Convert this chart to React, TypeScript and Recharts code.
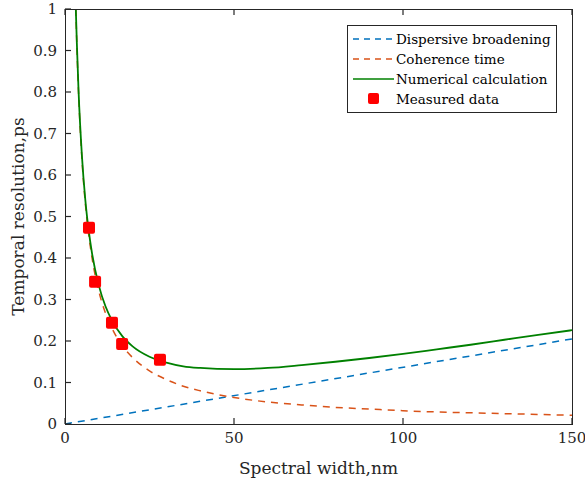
import { XAxis, YAxis, Line, Scatter, ComposedChart } from "recharts";

// values
const dispersiveX = [0, 150];
const dispersiveY = [0, 0.205];

const coherenceX = [3.2, 3.5, 4, 5, 6, 7, 8, 10, 12, 14, 17, 20, 25, 30, 35, 40, 50, 60, 70, 80, 90, 100, 110, 120, 130, 140, 150];
const coherenceY = [1.0, 0.914, 0.8, 0.64, 0.533, 0.457, 0.4, 0.32, 0.267, 0.229, 0.188, 0.16, 0.128, 0.107, 0.091, 0.08, 0.064, 0.053, 0.046, 0.04, 0.036, 0.032, 0.029, 0.027, 0.025, 0.023, 0.021];

const numericalX = [3.2, 3.5, 4, 5, 6, 7, 8, 10, 12, 14, 17, 20, 25, 30, 35, 40, 50, 60, 70, 80, 90, 100, 110, 120, 130, 140, 150];
const numericalY = [1.0, 0.919, 0.805, 0.647, 0.541, 0.467, 0.411, 0.334, 0.283, 0.248, 0.211, 0.187, 0.162, 0.148, 0.139, 0.135, 0.132, 0.135, 0.142, 0.15, 0.159, 0.169, 0.18, 0.191, 0.203, 0.215, 0.226];

const measuredX = [7.1, 8.9, 13.9, 16.9, 28.1];
const measuredY = [0.473, 0.343, 0.244, 0.193, 0.155];

const xTicks = [0, 50, 100, 150];
const yTicks = [0, 0.1, 0.2, 0.3, 0.4, 0.5, 0.6, 0.7, 0.8, 0.9, 1];

const zip = (xs: number[], ys: number[]) => xs.map((x, i) => ({ x, y: ys[i] }));

const dispersive = zip(dispersiveX, dispersiveY);
const coherence = zip(coherenceX, coherenceY);
const numerical = zip(numericalX, numericalY);
const measured = zip(measuredX, measuredY);

const FONT = "'DejaVu Serif', serif";
const AXIS = "#262626";
const TICK_LEN = 6;

const SquareDot = (props: any) => {
  const { cx, cy } = props;
  if (cx == null || cy == null) return null;
  return <rect x={cx - 6} y={cy - 6} width={12} height={12} rx={2} fill="#FF0000" />;
};

// inward tick marks drawn as filled rects, together with the labels
const BottomTick = ({ x, y, payload }: any) => (
  <g>
    <rect x={x - 0.6} y={y - TICK_LEN} width={1.2} height={TICK_LEN} fill={AXIS} />
    <text x={x} y={y + 8} dy="0.71em" textAnchor="middle" fill={AXIS} fontSize={15} fontFamily={FONT}>
      {payload.value}
    </text>
  </g>
);

const TopTick = ({ x, y }: any) => (
  <rect x={x - 0.6} y={y} width={1.2} height={TICK_LEN} fill={AXIS} />
);

const LeftTick = ({ x, y, payload }: any) => (
  <g>
    <rect x={x + 8} y={y - 0.6} width={TICK_LEN} height={1.2} fill={AXIS} />
    <text x={x} y={y} dy="0.355em" textAnchor="end" fill={AXIS} fontSize={15} fontFamily={FONT}>
      {payload.value}
    </text>
  </g>
);

const RightTick = ({ x, y }: any) => (
  <rect x={x - TICK_LEN} y={y - 0.6} width={TICK_LEN} height={1.2} fill={AXIS} />
);

const LegendBox = () => {
  const rows = [
    { label: "Dispersive broadening", kind: "dash", color: "#0072BD" },
    { label: "Coherence time", kind: "dash", color: "#D95319" },
    { label: "Numerical calculation", kind: "solid", color: "#008000" },
    { label: "Measured data", kind: "dot", color: "#FF0000" },
  ];
  return (
    <div
      style={{
        position: "absolute",
        left: 347,
        top: 25,
        width: 210,
        height: 88,
        border: "1px solid #262626",
        background: "#fff",
        fontFamily: FONT,
        fontSize: 13.5,
        color: "#000",
        boxSizing: "border-box",
        paddingTop: 3,
      }}
    >
      {rows.map((r) => (
        <div key={r.label} style={{ display: "flex", alignItems: "center", height: 20 }}>
          <svg width={48} height={20} style={{ flex: "none" }}>
            {r.kind === "dash" && (
              <line x1={5} x2={46} y1={10} y2={10} stroke={r.color} strokeWidth={1.5} strokeDasharray="6 5" />
            )}
            {r.kind === "solid" && <line x1={5} x2={46} y1={10} y2={10} stroke={r.color} strokeWidth={1.5} />}
            {r.kind === "dot" && <rect x={20} y={4} width={11} height={11} rx={2} fill={r.color} />}
          </svg>
          <span style={{ whiteSpace: "nowrap" }}>{r.label}</span>
        </div>
      ))}
    </div>
  );
};

export default function App() {
  return (
    <div style={{ position: "fixed", left: 0, top: 0, width: 585, height: 482, background: "#fff", fontFamily: FONT }}>
      <ComposedChart width={585} height={482} data={numerical} margin={{ top: 8, right: 12, bottom: 0, left: 0 }}>
        <XAxis
          xAxisId="b"
          type="number"
          dataKey="x"
          domain={[0, 150]}
          ticks={xTicks}
          allowDataOverflow
          height={58}
          axisLine={false}
          tickLine={false}
          tick={<BottomTick />}
          tickSize={0}
          tickMargin={0}
          label={{ value: "Spectral width,nm", position: "insideBottom", offset: 8, style: { fill: AXIS, fontSize: 17, fontFamily: FONT } }}
        />
        <XAxis
          xAxisId="t"
          orientation="top"
          type="number"
          dataKey="x"
          domain={[0, 150]}
          ticks={xTicks}
          height={1}
          axisLine={false}
          tickLine={false}
          tick={<TopTick />}
          tickSize={0}
          tickMargin={0}
        />
        <YAxis
          yAxisId="l"
          type="number"
          domain={[0, 1]}
          ticks={yTicks}
          allowDataOverflow
          width={65}
          axisLine={false}
          tickLine={false}
          tick={<LeftTick />}
          tickSize={0}
          tickMargin={8}
          label={{ value: "Temporal resolution,ps", angle: -90, position: "insideLeft", offset: 18, style: { textAnchor: "middle", fill: AXIS, fontSize: 17, fontFamily: FONT } }}
        />
        <YAxis
          yAxisId="r"
          orientation="right"
          type="number"
          domain={[0, 1]}
          ticks={yTicks}
          width={1}
          axisLine={false}
          tickLine={false}
          tick={<RightTick />}
          tickSize={0}
          tickMargin={0}
        />
        <Line
          xAxisId="b"
          yAxisId="l"
          data={dispersive}
          dataKey="y"
          type="linear"
          stroke="#0072BD"
          strokeWidth={1.5}
          strokeDasharray="7 6"
          dot={false}
          isAnimationActive={false}
        />
        <Line
          xAxisId="b"
          yAxisId="l"
          data={coherence}
          dataKey="y"
          type="monotone"
          stroke="#D95319"
          strokeWidth={1.5}
          strokeDasharray="7 6"
          dot={false}
          isAnimationActive={false}
        />
        <Line
          xAxisId="b"
          yAxisId="l"
          data={numerical}
          dataKey="y"
          type="monotone"
          stroke="#008000"
          strokeWidth={1.8}
          dot={false}
          isAnimationActive={false}
        />
        <Scatter
          xAxisId="b"
          yAxisId="l"
          data={measured}
          dataKey="y"
          fill="#FF0000"
          shape={<SquareDot />}
          isAnimationActive={false}
        />
      </ComposedChart>
      {/* axes box around the plot area */}
      <div
        style={{
          position: "absolute",
          left: 65,
          top: 9,
          width: 508,
          height: 416,
          border: "1px solid #262626",
          boxSizing: "border-box",
          pointerEvents: "none",
        }}
      />
      <LegendBox />
    </div>
  );
}
